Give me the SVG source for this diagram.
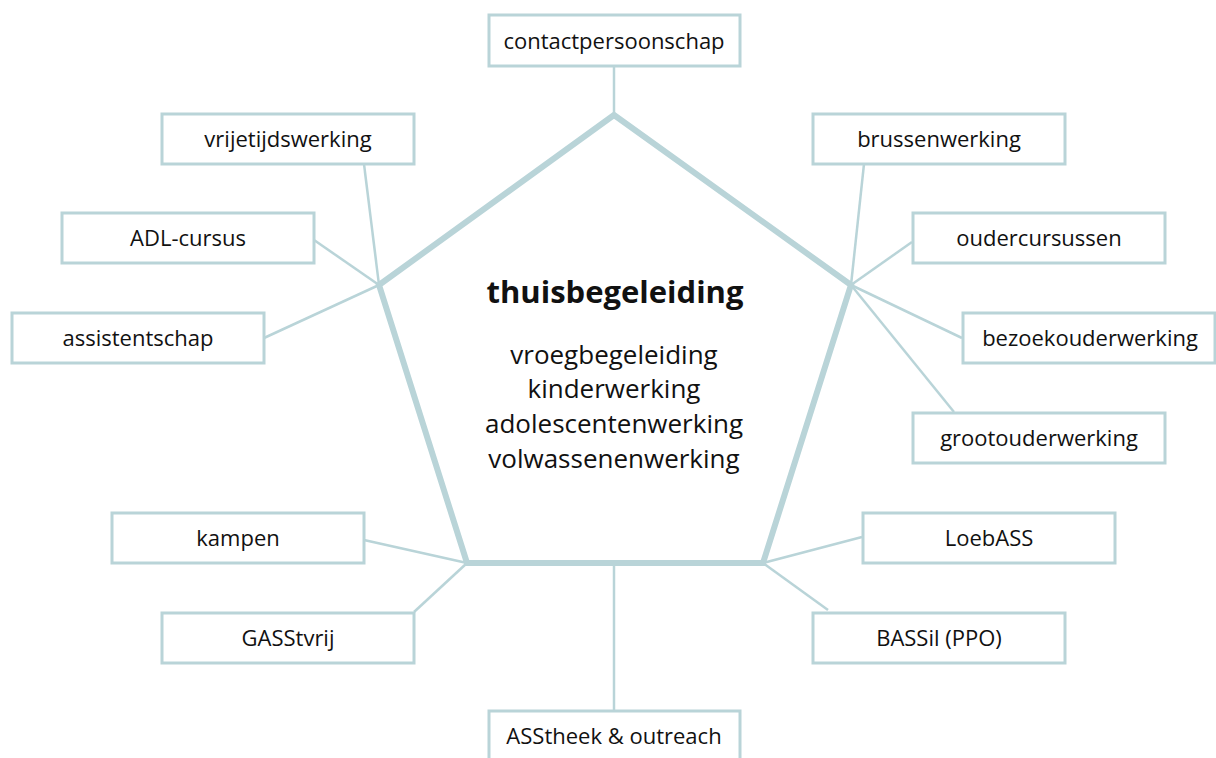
<svg xmlns="http://www.w3.org/2000/svg" width="1216" height="758" viewBox="0 0 1216 758">
<style>
.box{fill:#fff;stroke:#b9d4d8;stroke-width:3}
.lbl{font-family:"Open Sans","Noto Sans",sans-serif;font-size:22px;fill:#111;text-anchor:middle}
.c{stroke:#b9d4d8;stroke-width:2.5;fill:none}
.pent{stroke:#b9d4d8;stroke-width:6;fill:none;stroke-linejoin:miter}
.ct{font-family:"Open Sans","Noto Sans",sans-serif;font-size:26px;fill:#111;text-anchor:middle}
.title{font-family:"Open Sans","Noto Sans",sans-serif;font-size:31px;font-weight:bold;fill:#111;text-anchor:middle}
</style>
<rect width="1216" height="758" fill="#fff"/>
<g id="connectors">
<line class="c" x1="614" y1="66" x2="614" y2="115"/>
<line class="c" x1="364" y1="164" x2="379" y2="285"/>
<line class="c" x1="314" y1="240" x2="379" y2="285"/>
<line class="c" x1="264" y1="338" x2="379" y2="285"/>
<line class="c" x1="864" y1="164" x2="851" y2="285"/>
<line class="c" x1="912" y1="242" x2="851" y2="285"/>
<line class="c" x1="962" y1="338" x2="851" y2="285"/>
<line class="c" x1="954" y1="412" x2="851" y2="285"/>
<line class="c" x1="364" y1="540" x2="467" y2="563"/>
<line class="c" x1="414" y1="612" x2="467" y2="563"/>
<line class="c" x1="862" y1="537" x2="763" y2="563"/>
<line class="c" x1="828" y1="610" x2="763" y2="563"/>
<line class="c" x1="614" y1="563" x2="614" y2="712"/>
</g>
<g id="center">
<polygon class="pent" points="614,115 851,285 763,563 467,563 379,285"/>
<text class="title" x="615" y="303">thuisbegeleiding</text>
<text class="ct" x="614" y="364">vroegbegeleiding</text>
<text class="ct" x="614" y="398">kinderwerking</text>
<text class="ct" x="614" y="433">adolescentenwerking</text>
<text class="ct" x="614" y="468">volwassenenwerking</text>
</g>
<g id="n-contact"><rect class="box" x="489" y="15" width="251" height="51"/><text class="lbl" x="614" y="49">contactpersoonschap</text></g>
<g id="n-vrije"><rect class="box" x="162" y="114" width="252" height="50"/><text class="lbl" x="288" y="147">vrijetijdswerking</text></g>
<g id="n-brussen"><rect class="box" x="813" y="114" width="252" height="50"/><text class="lbl" x="939" y="147">brussenwerking</text></g>
<g id="n-adl"><rect class="box" x="62" y="213" width="252" height="50"/><text class="lbl" x="188" y="246">ADL-cursus</text></g>
<g id="n-ouder"><rect class="box" x="913" y="213" width="252" height="50"/><text class="lbl" x="1039" y="246">oudercursussen</text></g>
<g id="n-assist"><rect class="box" x="12" y="313" width="252" height="50"/><text class="lbl" x="138" y="346">assistentschap</text></g>
<g id="n-bezoek"><rect class="box" x="963" y="313" width="252" height="50"/><text class="lbl" x="1090" y="346">bezoekouderwerking</text></g>
<g id="n-groot"><rect class="box" x="913" y="413" width="252" height="50"/><text class="lbl" x="1039" y="446">grootouderwerking</text></g>
<g id="n-kampen"><rect class="box" x="112" y="513" width="252" height="50"/><text class="lbl" x="238" y="546">kampen</text></g>
<g id="n-loeb"><rect class="box" x="863" y="513" width="252" height="50"/><text class="lbl" x="989" y="546">LoebASS</text></g>
<g id="n-gass"><rect class="box" x="162" y="613" width="252" height="50"/><text class="lbl" x="288" y="646">GASStvrij</text></g>
<g id="n-bassil"><rect class="box" x="813" y="613" width="252" height="50"/><text class="lbl" x="939" y="646">BASSil (PPO)</text></g>
<g id="n-asstheek"><rect class="box" x="489" y="711" width="251" height="50"/><text class="lbl" x="614" y="744">ASStheek &amp; outreach</text></g>
</svg>
